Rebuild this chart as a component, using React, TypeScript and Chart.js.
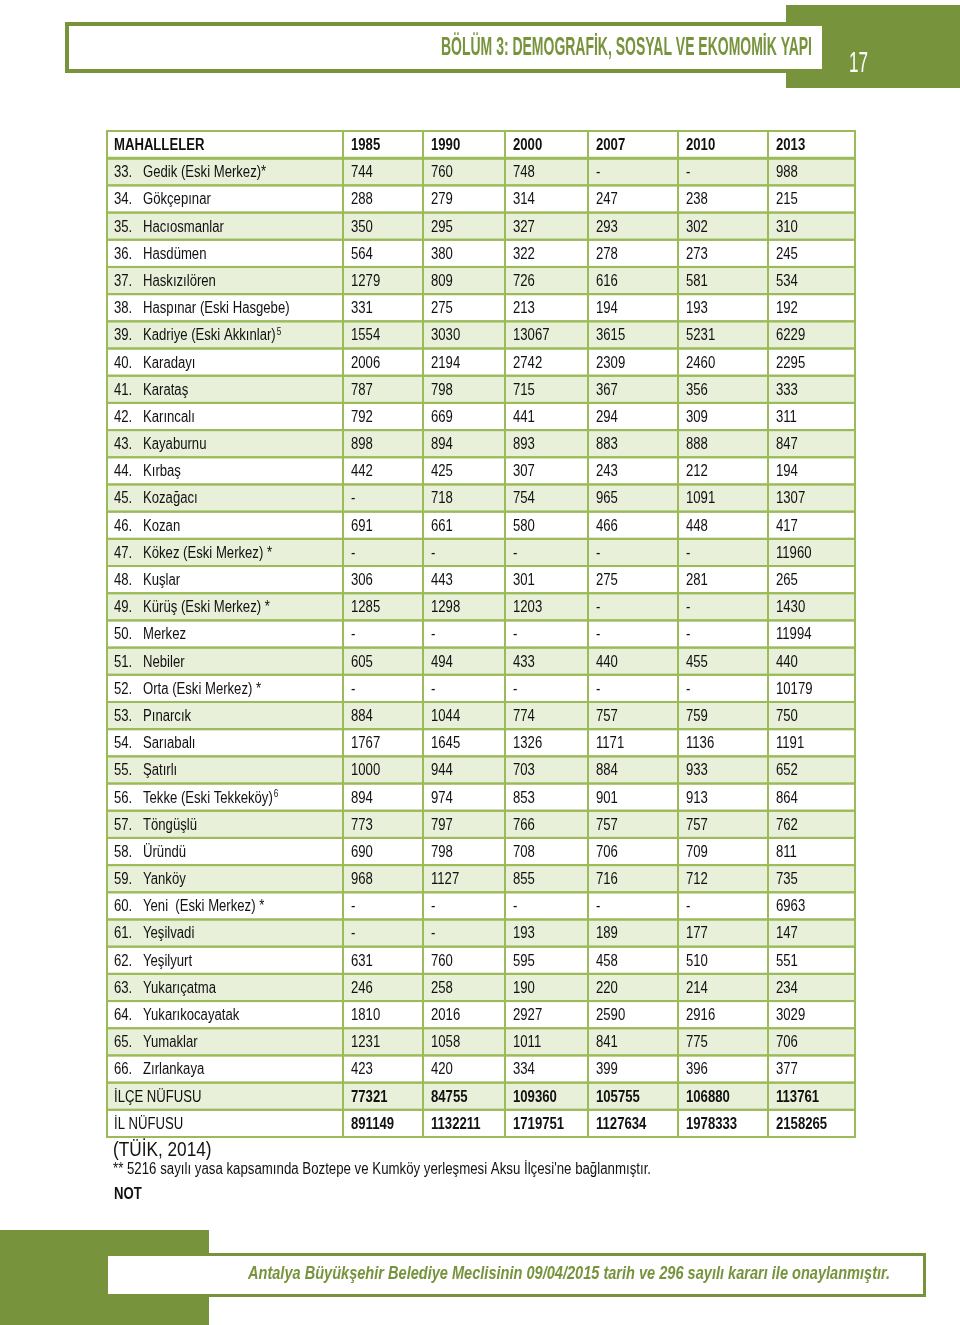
import React, { useEffect, useRef } from 'react';
import { Chart, registerables } from 'chart.js';

Chart.register(...registerables);

// ---------- DATA ----------
const columns = ['MAHALLELER', '1985', '1990', '2000', '2007', '2010', '2013'];

const rowNumbers = [
  33, 34, 35, 36, 37, 38, 39, 40, 41, 42, 43, 44, 45, 46, 47, 48, 49,
  50, 51, 52, 53, 54, 55, 56, 57, 58, 59, 60, 61, 62, 63, 64, 65, 66,
];

const mahalleler = [
  'Gedik (Eski Merkez)*', 'Gökçepınar', 'Hacıosmanlar', 'Hasdümen', 'Haskızılören',
  'Haspınar (Eski Hasgebe)', 'Kadriye (Eski Akkınlar)⁵', 'Karadayı', 'Karataş', 'Karıncalı',
  'Kayaburnu', 'Kırbaş', 'Kozağacı', 'Kozan', 'Kökez (Eski Merkez) *',
  'Kuşlar', 'Kürüş (Eski Merkez) *', 'Merkez', 'Nebiler', 'Orta (Eski Merkez) *',
  'Pınarcık', 'Sarıabalı', 'Şatırlı', 'Tekke (Eski Tekkeköy)⁶', 'Töngüşlü',
  'Üründü', 'Yanköy', 'Yeni  (Eski Merkez) *', 'Yeşilvadi', 'Yeşilyurt',
  'Yukarıçatma', 'Yukarıkocayatak', 'Yumaklar', 'Zırlankaya',
];

const v1985 = [744, 288, 350, 564, 1279, 331, 1554, 2006, 787, 792, 898, 442, null, 691, null, 306, 1285, null, 605, null, 884, 1767, 1000, 894, 773, 690, 968, null, null, 631, 246, 1810, 1231, 423];
const v1990 = [760, 279, 295, 380, 809, 275, 3030, 2194, 798, 669, 894, 425, 718, 661, null, 443, 1298, null, 494, null, 1044, 1645, 944, 974, 797, 798, 1127, null, null, 760, 258, 2016, 1058, 420];
const v2000 = [748, 314, 327, 322, 726, 213, 13067, 2742, 715, 441, 893, 307, 754, 580, null, 301, 1203, null, 433, null, 774, 1326, 703, 853, 766, 708, 855, null, 193, 595, 190, 2927, 1011, 334];
const v2007 = [null, 247, 293, 278, 616, 194, 3615, 2309, 367, 294, 883, 243, 965, 466, null, 275, null, null, 440, null, 757, 1171, 884, 901, 757, 706, 716, null, 189, 458, 220, 2590, 841, 399];
const v2010 = [null, 238, 302, 273, 581, 193, 5231, 2460, 356, 309, 888, 212, 1091, 448, null, 281, null, null, 455, null, 759, 1136, 933, 913, 757, 709, 712, null, 177, 510, 214, 2916, 775, 396];
const v2013 = [988, 215, 310, 245, 534, 192, 6229, 2295, 333, 311, 847, 194, 1307, 417, 11960, 265, 1430, 11994, 440, 10179, 750, 1191, 652, 864, 762, 811, 735, 6963, 147, 551, 234, 3029, 706, 377];

const totalLabels = ['İLÇE NÜFUSU', 'İL NÜFUSU'];
const ilceNufusu = [77321, 84755, 109360, 105755, 106880, 113761];
const ilNufusu = [891149, 1132211, 1719751, 1127634, 1978333, 2158265];

const headerTitle = 'BÖLÜM 3: DEMOGRAFİK, SOSYAL VE EKOMOMİK YAPI';
const pageNumber = '17';
const sourceText = '(TÜİK, 2014)';
const noteText = "** 5216 sayılı yasa kapsamında Boztepe ve Kumköy yerleşmesi Aksu İlçesi'ne bağlanmıştır.";
const notLabel = 'NOT';
const footerText = 'Antalya Büyükşehir Belediye Meclisinin 09/04/2015 tarih ve 296 sayılı kararı ile onaylanmıştır.';

// ---------- LAYOUT / STYLE ----------
const yearSeries = [v1985, v1990, v2000, v2007, v2010, v2013];
const rowKeys = ['header', ...mahalleler, ...totalLabels];
const colWidths = [236, 80, 82, 83, 90, 90, 87];
const GREEN = '#77933c';
const GRID = '#9bbb59';
const FILL = '#e9f0da';
const INK = '#111111';
const FONT = "'Liberation Sans Narrow', 'Arial Narrow', 'Liberation Sans', Arial, sans-serif";
const NARROW = 0.82;
const SUP: Record<string, string> = { '⁰': '0', '¹': '1', '²': '2', '³': '3', '⁴': '4', '⁵': '5', '⁶': '6', '⁷': '7', '⁸': '8', '⁹': '9' };

function fillNarrow(ctx: CanvasRenderingContext2D, text: string, x: number, y: number, factor = NARROW): number {
  const w = ctx.measureText(text).width * factor;
  ctx.fillText(text, x, y, w);
  return w;
}

function cellText(col: number, row: number): string {
  if (row === 0) return columns[col];
  const nData = mahalleler.length;
  if (row <= nData) {
    if (col === 0) return mahalleler[row - 1];
    const v = yearSeries[col - 1][row - 1];
    return v === null ? '-' : String(v);
  }
  const t = row - nData - 1;
  if (col === 0) return totalLabels[t];
  return String((t === 0 ? ilceNufusu : ilNufusu)[col - 1]);
}

const tablePlugin = {
  id: 'tablePlugin',
  beforeDraw(chart: any) {
    const ctx = chart.ctx as CanvasRenderingContext2D;
    ctx.save();
    // page header
    ctx.fillStyle = GREEN;
    ctx.fillRect(786, 5, 174, 83);
    ctx.fillStyle = '#ffffff';
    ctx.fillRect(65, 22, 761, 51);
    ctx.strokeStyle = GREEN;
    ctx.lineWidth = 4;
    ctx.strokeRect(67, 24, 757, 47);
    ctx.fillStyle = GREEN;
    ctx.font = `bold 25px ${FONT}`;
    ctx.textAlign = 'right';
    ctx.textBaseline = 'alphabetic';
    ctx.fillText(headerTitle, 812, 55, 371);
    ctx.fillStyle = '#ffffff';
    ctx.font = `30px ${FONT}`;
    ctx.textAlign = 'left';
    ctx.fillText(pageNumber, 849, 72, 19);

    // page footer
    ctx.fillStyle = GREEN;
    ctx.fillRect(0, 1230, 209, 95);
    ctx.fillStyle = '#ffffff';
    ctx.fillRect(105, 1253, 821, 44);
    ctx.strokeStyle = GREEN;
    ctx.lineWidth = 3;
    ctx.strokeRect(106.5, 1254.5, 818, 41);
    ctx.fillStyle = GREEN;
    ctx.font = `italic bold 18px ${FONT}`;
    ctx.textAlign = 'left';
    ctx.fillText(footerText, 248, 1279, 642);

    // notes under the table
    ctx.fillStyle = INK;
    ctx.font = `21px ${FONT}`;
    fillNarrow(ctx, sourceText, 113, 1156);
    ctx.font = `16px ${FONT}`;
    ctx.fillText(noteText, 113, 1174, 538);
    ctx.font = `bold 16px ${FONT}`;
    fillNarrow(ctx, notLabel, 114, 1199);
    ctx.restore();
  },
  afterDatasetsDraw(chart: any) {
    const ctx = chart.ctx as CanvasRenderingContext2D;
    const nData = mahalleler.length;
    ctx.save();
    const cells: any[] = [];
    chart.data.datasets.forEach((_ds: any, c: number) => {
      const meta = chart.getDatasetMeta(c);
      meta.data.forEach((el: any, r: number) => {
        const p = el.getProps(['x', 'y', 'base', 'height'], true);
        const left = Math.min(p.x, p.base);
        const right = Math.max(p.x, p.base);
        const top = p.y - p.height / 2;
        const bottom = p.y + p.height / 2;
        cells.push({ c, r, left, right, top, bottom, y: p.y });
      });
    });
    // grid lines
    ctx.strokeStyle = GRID;
    ctx.lineWidth = 2;
    cells.forEach((k) => {
      ctx.strokeRect(k.left, k.top, k.right - k.left, k.bottom - k.top);
    });
    // thicker line under header
    const hdr = cells.filter((k) => k.r === 0);
    if (hdr.length) {
      ctx.lineWidth = 3;
      ctx.beginPath();
      ctx.moveTo(Math.min(...hdr.map((k) => k.left)), hdr[0].bottom);
      ctx.lineTo(Math.max(...hdr.map((k) => k.right)), hdr[0].bottom);
      ctx.stroke();
    }
    // text
    ctx.fillStyle = INK;
    ctx.textBaseline = 'middle';
    ctx.textAlign = 'left';
    cells.forEach((k) => {
      const text = cellText(k.c, k.r);
      const isHeader = k.r === 0;
      const isTotal = k.r > nData;
      const bold = isHeader || (isTotal && k.c > 0);
      ctx.font = `${bold ? 'bold ' : ''}16px ${FONT}`;
      const ty = k.y + 1;
      if (k.c === 0 && !isHeader && !isTotal) {
        fillNarrow(ctx, `${rowNumbers[k.r - 1]}.`, k.left + 7, ty);
        let main = text;
        let sup = '';
        while (main.length && SUP[main[main.length - 1]]) {
          sup = SUP[main[main.length - 1]] + sup;
          main = main.slice(0, -1);
        }
        const nx = k.left + 36;
        const w = fillNarrow(ctx, main, nx, ty);
        if (sup) {
          ctx.font = `10px ${FONT}`;
          fillNarrow(ctx, sup, nx + w + 1, ty - 4);
        }
      } else {
        fillNarrow(ctx, text, k.left + (k.c === 0 ? 7 : 8), ty);
      }
    });
    ctx.restore();
  },
};

export default function App() {
  const canvasRef = useRef<HTMLCanvasElement | null>(null);

  useEffect(() => {
    document.body.style.margin = '0';
    const canvas = canvasRef.current;
    if (!canvas) return;
    const rowColors = rowKeys.map((_k, i) => (i % 2 === 1 ? FILL : '#ffffff'));
    const datasets = columns.map((name, c) => ({
      label: name,
      data: rowKeys.map(() => colWidths[c]),
      backgroundColor: rowColors,
      borderWidth: 0,
      barPercentage: 1,
      categoryPercentage: 1,
      stack: 'table',
    }));
    const chart = new Chart(canvas, {
      type: 'bar',
      data: { labels: rowKeys, datasets },
      options: {
        indexAxis: 'y',
        responsive: false,
        animation: false,
        devicePixelRatio: 1,
        layout: { padding: { left: 107, right: 105, top: 131, bottom: 188 } },
        plugins: { legend: { display: false }, tooltip: { enabled: false } },
        events: [],
        scales: {
          x: {
            type: 'linear',
            stacked: true,
            min: 0,
            max: colWidths.reduce((a, b) => a + b, 0),
            display: false,
          },
          y: { type: 'category', stacked: true, display: false, offset: true },
        },
      },
      plugins: [tablePlugin],
    });
    return () => chart.destroy();
  }, []);

  return (
    <div style={{ width: 960, height: 1325, position: 'relative', background: '#ffffff' }}>
      <canvas ref={canvasRef} width={960} height={1325} style={{ display: 'block' }} />
    </div>
  );
}
